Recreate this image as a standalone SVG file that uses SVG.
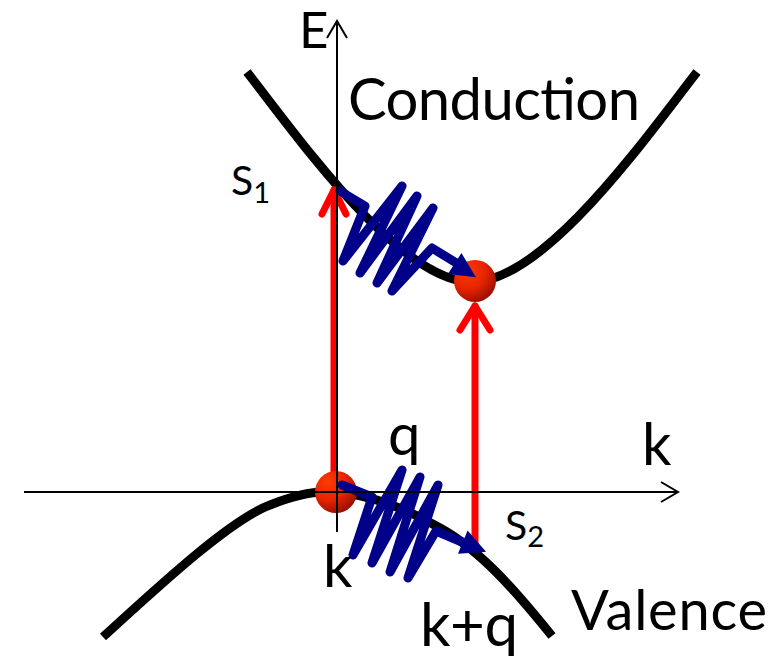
<svg xmlns="http://www.w3.org/2000/svg" width="777" height="664" viewBox="0 0 777 664">
<defs>
<radialGradient id="ball" cx="0.35" cy="0.3" r="0.75" fx="0.3" fy="0.25">
<stop offset="0" stop-color="#ff3a00"/>
<stop offset="0.55" stop-color="#e82400"/>
<stop offset="1" stop-color="#960e00"/>
</radialGradient>
<style>
.band{fill:none;stroke:#000;stroke-width:9;stroke-linecap:butt}
.axis{fill:none;stroke:#000;stroke-width:2}
.red{fill:none;stroke:#ff0000;stroke-width:7;stroke-linecap:round;stroke-linejoin:round}
.spring{fill:none;stroke:#000088;stroke-width:9;stroke-linecap:round;stroke-linejoin:round}
.head{fill:#000088;stroke:#000088;stroke-width:2;stroke-linejoin:miter}
.t{font-family:Lato,"Open Sans","Liberation Sans",sans-serif;fill:#000}
</style>
</defs>
<g id="conduction-band"><path class="band" d="M247,72 C300,140 400,282 472,282 C544,282 644,140 697,72"/></g>
<g id="valence-band"><path class="band" d="M103,637 C160,585 230,520 270,505 C295,495 310,492 325,492 C360,492 400,505 440,528 C480,550 515,590 552,636"/></g>
<g id="connectors">
<g id="transition-s1"><path class="red" d="M334,482 V190"/><path class="red" d="M322,214 L334,190 L346,214"/></g>
<g id="transition-s2"><path class="red" d="M475,546 V306"/><path class="red" d="M460,330 L475,306 L490,330"/></g>
</g>
<g id="ball-upper"><circle cx="475" cy="281" r="21" fill="url(#ball)"/></g>
<g id="ball-lower"><circle cx="336" cy="492" r="21" fill="url(#ball)"/></g>
<g id="phonon-upper">
<polyline class="spring" points="340,191 365,206 343,261 402,186 360,273 417,196 377,283 433,208 392,291 432,248 458,264"/>
<polygon class="head" points="474,276 449.6,273.3 461.4,254.9"/>
</g>
<g id="phonon-lower">
<polyline class="spring" points="342,485 372,497 353,555 402,470 372,563 420,477 390,572 438,485 408,578 436,531 462,542"/>
<polygon class="head" points="484,551 459.5,552.7 467.9,532.3"/>
</g>
<g id="axes">
<path class="axis" d="M337,532 V21"/><path class="axis" d="M327,38 L337,21 L347,38"/>
<path class="axis" d="M24,492 H678"/><path class="axis" d="M661,482 L678,492 L661,502"/>
</g>
<g id="labels">
<text class="t" x="299" y="48" font-size="51">E</text>
<text class="t" x="348" y="120" font-size="58" textLength="292">Conduction</text>
<text class="t" x="231" y="195" font-size="41">S<tspan font-size="29" dy="8">1</tspan></text>
<text class="t" x="505" y="540" font-size="41">S<tspan font-size="29" dy="7">2</tspan></text>
<text class="t" x="388" y="455" font-size="58">q</text>
<text class="t" x="642" y="465" font-size="58">k</text>
<text class="t" x="323" y="587" font-size="58">k</text>
<text class="t" x="420" y="646" font-size="60" textLength="98">k+q</text>
<text class="t" x="571" y="630" font-size="56" textLength="196">Valence</text>
</g>
</svg>
